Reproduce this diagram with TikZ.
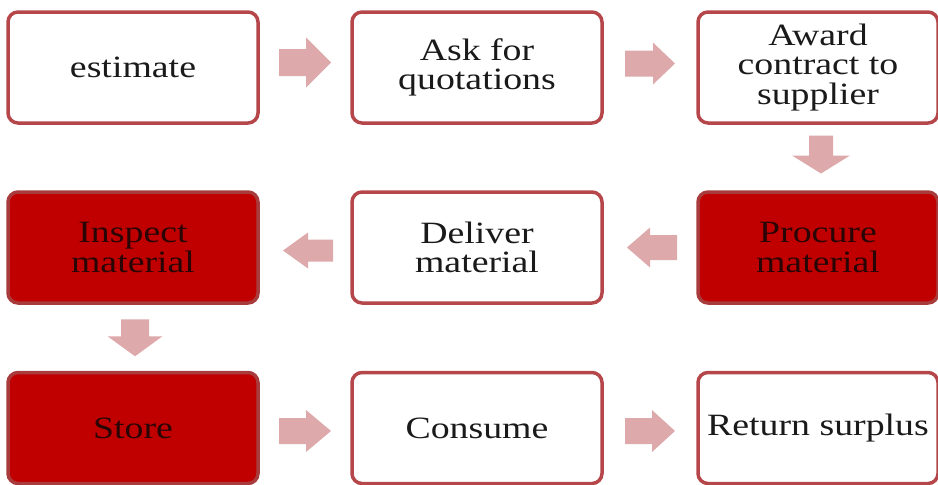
\documentclass[tikz,border=0pt]{standalone}
\usepackage{fontspec}
\setmainfont[FakeStretch=1.22]{Liberation Serif}
\usetikzlibrary{calc}
\definecolor{bord}{HTML}{B5474A}
\definecolor{redfill}{HTML}{C00000}
\definecolor{redbord}{HTML}{A83C3C}
\definecolor{arr}{HTML}{DDA9AB}
\definecolor{txt}{HTML}{1A1A1A}
\definecolor{rtxt}{HTML}{2A0505}
\tikzset{
  pics/barrow/.style n args={4}{code={%
    \fill[arr] (-#1/2,-#3/2) -- (#1/2-#4,-#3/2) -- (#1/2-#4,-#2/2) -- (#1/2,0)
      -- (#1/2-#4,#2/2) -- (#1/2-#4,#3/2) -- (-#1/2,#3/2) -- cycle;}}
}
\begin{document}
\begin{tikzpicture}[x=1pt,y=-1pt,
  box/.style={rectangle, rounded corners=10pt, line width=3.5pt, draw=bord, fill=white,
    minimum width=250pt, minimum height=111pt, align=center, text=txt,
    font=\fontsize{31}{29.5}\selectfont, inner sep=0pt},
  narrowbox/.style={minimum width=240pt},
  redbox/.style={fill=redfill, draw=redbord, text=rtxt}]
\useasboundingbox (0,0) rectangle (938,485);
\clip (0,0) rectangle (938,485);
\node[box] (b1) at (133,67.5) {\raisebox{-3pt}{estimate}};
\node[box] (b2) at (477,67.5) {Ask for\\quotations};
\node[box,narrowbox] (b3) at (818,67.5) {Award\\contract to\\supplier};
\node[box,redbox] (r1) at (133,247.5) {Inspect\\material};
\node[box] (r2) at (477,247.5) {Deliver\\material};
\node[box,narrowbox,redbox] (r3) at (818,247.5) {Procure\\material};
\node[box,redbox] (s1) at (133,428) {Store};
\node[box] (s2) at (477,428) {Consume};
\node[box,narrowbox] (s3) at (818,428) {Return surplus};
% block arrows
\pic at ($(b1.east)!0.5!(b2.west)+(0,-5)$) {barrow={52}{50}{27}{25}};
\pic at ($(b2.east)!0.5!(b3.west)+(0,-4)$) {barrow={50}{42}{26}{22}};
\pic[rotate=-90] at ($(b3.south)!0.5!(r3.north)+(3,-3)$) {barrow={38}{58}{24}{18}};
\pic[rotate=180] at ($(r3.west)!0.5!(r2.east)+(2,0)$) {barrow={50}{40}{25}{23}};
\pic[rotate=180] at ($(r2.west)!0.5!(r1.east)+(3,3)$) {barrow={50}{36}{22}{25}};
\pic[rotate=-90] at ($(r1.south)!0.5!(s1.north)+(2,0)$) {barrow={37}{55}{28}{20}};
\pic at ($(s1.east)!0.5!(s2.west)+(0,3)$) {barrow={52}{42}{26}{25}};
\pic at ($(s2.east)!0.5!(s3.west)+(0,3)$) {barrow={50}{42}{26}{23}};
\end{tikzpicture}
\end{document}
